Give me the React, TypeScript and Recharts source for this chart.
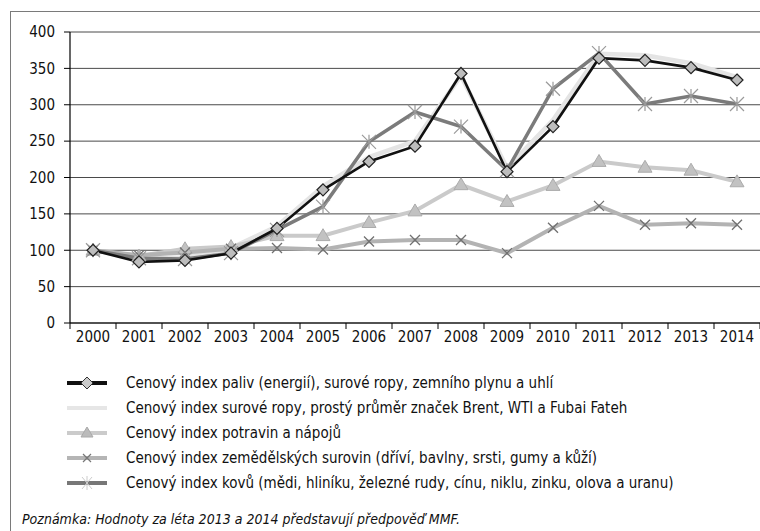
import React from 'react';
import { LineChart, Line, XAxis, YAxis, CartesianGrid } from 'recharts';

const years = ['2000','2001','2002','2003','2004','2005','2006','2007','2008','2009','2010','2011','2012','2013','2014'];
const fuel = [100, 84, 86, 96, 130, 183, 222, 243, 343, 208, 270, 364, 361, 351, 334];
const crude = [100, 88, 90, 103, 133, 188, 228, 250, 340, 213, 279, 370, 368, 357, 338];
const food = [100, 92, 102, 105, 120, 120, 138, 154, 190, 167, 189, 222, 214, 210, 194];
const agri = [100, 93, 97, 102, 103, 101, 112, 114, 114, 96, 131, 161, 135, 137, 135];
const metals = [100, 89, 88, 96, 128, 160, 249, 290, 270, 210, 322, 371, 301, 312, 301];
const yTicks = [0, 50, 100, 150, 200, 250, 300, 350, 400];

const labels = [
  'Cenový index paliv (energií), surové ropy, zemního plynu a uhlí',
  'Cenový index surové ropy, prostý průměr značek Brent, WTI a Fubai Fateh',
  'Cenový index potravin a nápojů',
  'Cenový index zemědělských surovin (dříví, bavlny, srsti, gumy a kůží)',
  'Cenový index kovů (mědi, hliníku, železné rudy, cínu, niklu, zinku, olova a uranu)',
];
const note = 'Poznámka: Hodnoty za léta 2013 a 2014 představují předpověď MMF.';

const data = years.map((y, i) => ({
  year: y,
  fuel: fuel[i],
  crude: crude[i],
  food: food[i],
  agri: agri[i],
  metals: metals[i],
}));

const FONT = '"DejaVu Sans Condensed", "Liberation Sans", sans-serif';

const Diamond = (props: any) => {
  const { cx, cy } = props;
  if (cx == null || cy == null) return null;
  const r = 6;
  return <path d={`M${cx},${cy - r}L${cx + r},${cy}L${cx},${cy + r}L${cx - r},${cy}Z`} fill="#bdbdbd" stroke="#222" strokeWidth={1.2} />;
};
const Triangle = (props: any) => {
  const { cx, cy } = props;
  if (cx == null || cy == null) return null;
  const r = 7;
  return <path d={`M${cx},${cy - r}L${cx + r},${cy + r * 0.7}L${cx - r},${cy + r * 0.7}Z`} fill="#c2c2c2" stroke="#ababab" strokeWidth={1} />;
};
const Cross = (props: any) => {
  const { cx, cy } = props;
  if (cx == null || cy == null) return null;
  const r = 5;
  return <path d={`M${cx - r},${cy - r}L${cx + r},${cy + r}M${cx - r},${cy + r}L${cx + r},${cy - r}`} stroke="#707070" strokeWidth={1.3} fill="none" />;
};
const Star = (props: any) => {
  const { cx, cy } = props;
  if (cx == null || cy == null) return null;
  const r = 7;
  return <path d={`M${cx - r},${cy - r}L${cx + r},${cy + r}M${cx - r},${cy + r}L${cx + r},${cy - r}M${cx},${cy - r}L${cx},${cy + r}`} stroke="#9a9a9a" strokeWidth={1.2} fill="none" />;
};

const XTick = (props: any) => {
  const { x, y, payload, index } = props;
  const off = payload.offset || 0;
  const ay = 323;
  return (
    <g>
      <line x1={x - off} y1={ay} x2={x - off} y2={ay + 6} stroke="#000" strokeWidth={1} />
      {index === years.length - 1 && <line x1={x + off} y1={ay} x2={x + off} y2={ay + 6} stroke="#000" strokeWidth={1} />}
      <text x={x} y={y + 11} textAnchor="middle" fontFamily={FONT} fontSize={15} fill="#111">{payload.value}</text>
    </g>
  );
};

const legendItems = [
  { line: '#111', w: 4, mark: 'diamond' },
  { line: '#e6e6e6', w: 4, mark: 'none' },
  { line: '#cbcbcb', w: 4, mark: 'triangle' },
  { line: '#b5b5b5', w: 4, mark: 'cross' },
  { line: '#777', w: 4, mark: 'star' },
];

const LegendMark = ({ mark }: { mark: string }) => {
  const cx = 20, cy = 8;
  if (mark === 'diamond') return <path d={`M${cx},${cy - 6}L${cx + 6},${cy}L${cx},${cy + 6}L${cx - 6},${cy}Z`} fill="#ccc" stroke="#333" strokeWidth={1} />;
  if (mark === 'triangle') return <path d={`M${cx},${cy - 6}L${cx + 6},${cy + 4}L${cx - 6},${cy + 4}Z`} fill="#bbb" stroke="#aaa" strokeWidth={1} />;
  if (mark === 'cross') return <path d={`M${cx - 4},${cy - 4}L${cx + 4},${cy + 4}M${cx - 4},${cy + 4}L${cx + 4},${cy - 4}`} stroke="#777" strokeWidth={1.2} />;
  if (mark === 'star') return <path d={`M${cx - 5},${cy - 6}L${cx + 5},${cy + 6}M${cx - 5},${cy + 6}L${cx + 5},${cy - 6}M${cx},${cy - 7}L${cx},${cy + 7}`} stroke="#ccc" strokeWidth={1} />;
  return null;
};

export default function App() {
  return (
    <div style={{ position: 'absolute', left: 0, top: 0, width: 760, height: 531, overflow: 'hidden', background: '#fff' }}>
      <div style={{ position: 'absolute', left: 10, top: 11, width: 800, height: 600, border: '1px solid #7a7a7a' }} />
      <div style={{ position: 'absolute', left: 0, top: 0 }}>
        <LineChart width={760} height={345} data={data} margin={{ top: 32, right: 0, left: 0, bottom: 0 }}>
          <CartesianGrid vertical={false} stroke="#4a4a4a" strokeWidth={1} />
          <XAxis dataKey="year" scale="band" interval={0} height={22} axisLine={{ stroke: '#000', strokeWidth: 1.2 }} tickLine={false} tick={<XTick />} />
          <YAxis width={70} domain={[0, 400]} ticks={yTicks} interval={0} axisLine={{ stroke: '#000', strokeWidth: 1.2 }} tickLine={{ stroke: '#000' }} tickSize={6} tickMargin={9} tick={{ fontFamily: FONT, fontSize: 15, fill: '#111' }} />
          <Line dataKey="crude" stroke="#e4e4e4" strokeWidth={4.5} dot={false} isAnimationActive={false} />
          <Line dataKey="food" stroke="#cacaca" strokeWidth={4} dot={<Triangle />} isAnimationActive={false} />
          <Line dataKey="agri" stroke="#b3b3b3" strokeWidth={4} dot={<Cross />} isAnimationActive={false} />
          <Line dataKey="metals" stroke="#7b7b7b" strokeWidth={3.5} dot={<Star />} isAnimationActive={false} />
          <Line dataKey="fuel" stroke="#111" strokeWidth={2.6} dot={<Diamond />} isAnimationActive={false} />
        </LineChart>
      </div>
      {labels.map((t, i) => (
        <div key={i} style={{ position: 'absolute', left: 67, top: 383 + i * 25 - 9, height: 18, display: 'flex', alignItems: 'center', whiteSpace: 'nowrap' }}>
          <svg width={40} height={16} style={{ display: 'block' }}>
            <line x1={0} y1={8} x2={40} y2={8} stroke={legendItems[i].line} strokeWidth={legendItems[i].w} />
            <LegendMark mark={legendItems[i].mark} />
          </svg>
          <span style={{ marginLeft: 19, fontFamily: FONT, fontSize: 15, color: '#111' }}>{t}</span>
        </div>
      ))}
      <div style={{ position: 'absolute', left: 22, top: 511, fontFamily: FONT, fontSize: 14, fontStyle: 'italic', color: '#111', whiteSpace: 'nowrap' }}>{note}</div>
    </div>
  );
}
